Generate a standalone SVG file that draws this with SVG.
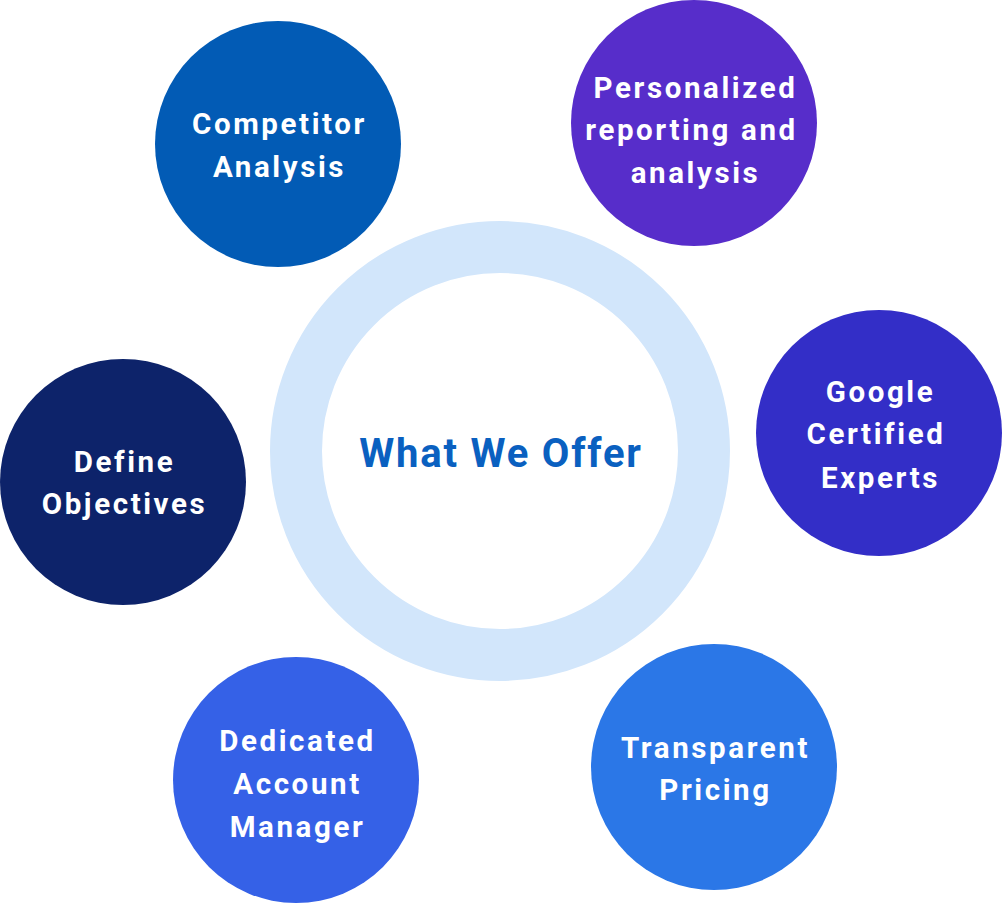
<svg xmlns="http://www.w3.org/2000/svg" width="1002" height="903" viewBox="0 0 1002 903">
<style>
.lbl{font-family:Roboto,"Liberation Sans",sans-serif;font-weight:700;font-size:29.5px;fill:#ffffff;text-anchor:middle;letter-spacing:2.6px}
.ctr{font-family:Roboto,"Liberation Sans",sans-serif;font-weight:700;font-size:40px;fill:#0A60C0;text-anchor:middle;letter-spacing:1.8px}
</style>
<rect width="1002" height="903" fill="#ffffff"/>
<g id="connectors"></g>
<g id="center">
<circle cx="500" cy="451" r="204" fill="none" stroke="#D2E6FB" stroke-width="52"/>
<text class="ctr" x="501" y="467">What We Offer</text>
</g>
<g id="competitor-analysis">
<circle cx="278" cy="144" r="123" fill="#025BB5"/>
<text class="lbl" x="279.5" y="134">Competitor</text>
<text class="lbl" x="279.5" y="177">Analysis</text>
</g>
<g id="personalized-reporting">
<circle cx="694" cy="123" r="123" fill="#572DCA"/>
<text class="lbl" x="695.5" y="98">Personalized</text>
<text class="lbl" x="691.5" y="140">reporting and</text>
<text class="lbl" x="695.5" y="183">analysis</text>
</g>
<g id="google-certified">
<circle cx="879" cy="433" r="123" fill="#332EC7"/>
<text class="lbl" x="880.5" y="402">Google</text>
<text class="lbl" x="876" y="444">Certified</text>
<text class="lbl" x="880.5" y="488">Experts</text>
</g>
<g id="define-objectives">
<circle cx="123" cy="482" r="123" fill="#0D236A"/>
<text class="lbl" x="124.5" y="472">Define</text>
<text class="lbl" x="124.5" y="514">Objectives</text>
</g>
<g id="dedicated-account-manager">
<circle cx="296" cy="780" r="123" fill="#3561E7"/>
<text class="lbl" x="297.5" y="751">Dedicated</text>
<text class="lbl" x="297.5" y="794">Account</text>
<text class="lbl" x="297.5" y="837">Manager</text>
</g>
<g id="transparent-pricing">
<circle cx="714" cy="767" r="123" fill="#2B77E7"/>
<text class="lbl" x="715.5" y="758">Transparent</text>
<text class="lbl" x="715.5" y="800">Pricing</text>
</g>
</svg>
